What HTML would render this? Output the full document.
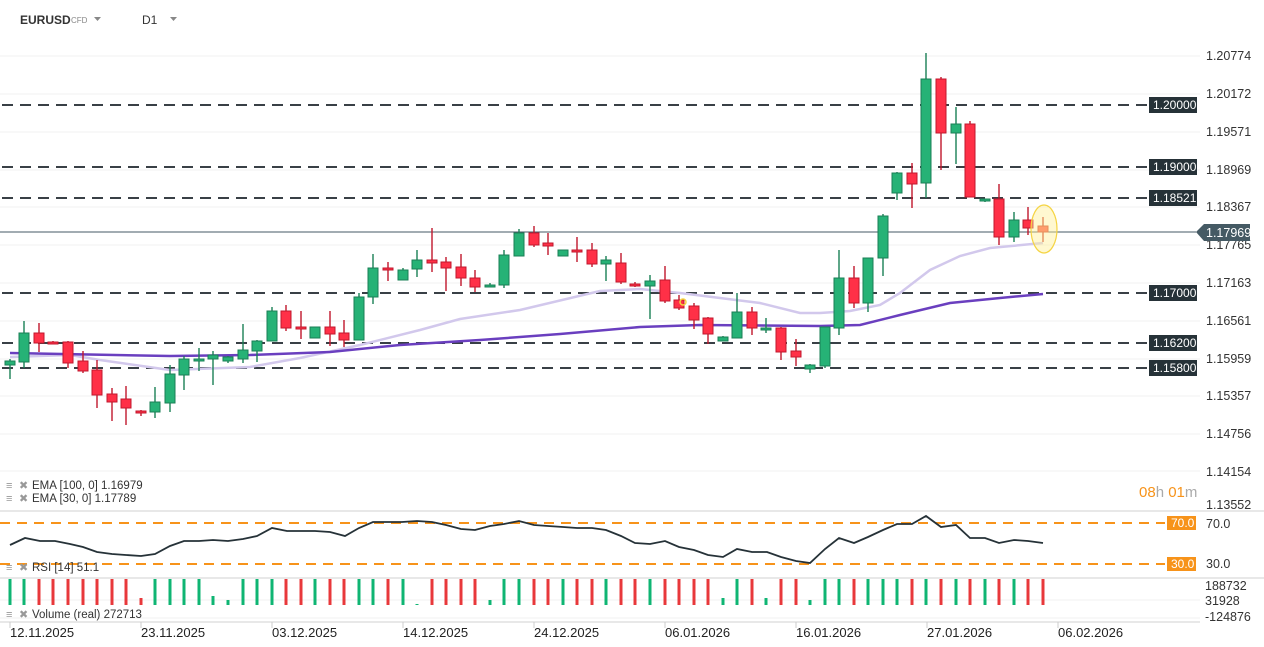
<!DOCTYPE html>
<html><head><meta charset="utf-8"><style>
body{margin:0;width:1264px;height:647px;overflow:hidden;background:#fff;font-family:"Liberation Sans",sans-serif}
svg{position:absolute;left:0;top:0}
</style></head><body>
<svg id="s" width="1264" height="647" xmlns="http://www.w3.org/2000/svg" font-family="Liberation Sans, sans-serif">
<g stroke="#f0f0f0" stroke-width="1">
<line x1="0" y1="56" x2="1200" y2="56"/><line x1="0" y1="94" x2="1200" y2="94"/><line x1="0" y1="132" x2="1200" y2="132"/><line x1="0" y1="170" x2="1200" y2="170"/><line x1="0" y1="207" x2="1200" y2="207"/><line x1="0" y1="245" x2="1200" y2="245"/><line x1="0" y1="283" x2="1200" y2="283"/><line x1="0" y1="321" x2="1200" y2="321"/><line x1="0" y1="359" x2="1200" y2="359"/><line x1="0" y1="396" x2="1200" y2="396"/><line x1="0" y1="434" x2="1200" y2="434"/><line x1="0" y1="471" x2="1200" y2="471"/>
<line x1="0" y1="618" x2="1200" y2="618"/><line x1="0" y1="600" x2="1200" y2="600"/>
</g>
<g stroke="#d0d0d0"><line x1="0" y1="511" x2="1264" y2="511"/><line x1="0" y1="578" x2="1264" y2="578"/><line x1="0" y1="622" x2="1200" y2="622"/></g>
<g id="dash" stroke="#394046" stroke-width="2" stroke-dasharray="11 7">
<line x1="2" y1="105" x2="1148" y2="105"/><line x1="2" y1="167" x2="1148" y2="167"/><line x1="2" y1="198" x2="1148" y2="198"/><line x1="2" y1="293" x2="1148" y2="293"/><line x1="2" y1="343" x2="1148" y2="343"/><line x1="2" y1="368" x2="1148" y2="368"/>
</g>
<line x1="0" y1="232" x2="1196" y2="232" stroke="#455a64" stroke-width="1"/>
<polyline fill="none" stroke="#d2c8ec" stroke-width="2.5" points="10,357 70,355 100,360 170,370 250,367 300,358 360,345 420,330 460,319 520,310 600,291 640,289 680,293 720,298 760,303 800,313 820,313 850,311 880,305 900,293 930,270 960,256 990,248 1043,243"/>
<polyline fill="none" stroke="#6a3fbf" stroke-width="2.5" points="10,353 170,356 250,355 330,352 400,345 480,340 560,334 640,327 700,325 820,326 860,325 900,315 950,303 1000,298 1043,294"/>
<g id="candles"></g>
<ellipse cx="1044" cy="229" rx="13" ry="24" fill="rgba(255,240,150,0.45)" stroke="#f5d442" stroke-width="1.2"/>
<circle cx="683" cy="302" r="3" fill="none" stroke="#f5d442" stroke-width="1.5"/>
<g font-size="12.5" fill="#333">
<text x="1206" y="60">1.20774</text><text x="1206" y="98">1.20172</text><text x="1206" y="136">1.19571</text><text x="1206" y="174">1.18969</text><text x="1206" y="211">1.18367</text><text x="1206" y="249">1.17765</text><text x="1206" y="287">1.17163</text><text x="1206" y="325">1.16561</text><text x="1206" y="363">1.15959</text><text x="1206" y="400">1.15357</text><text x="1206" y="438">1.14756</text><text x="1206" y="476">1.14154</text><text x="1206" y="509">1.13552</text>
<text x="1206" y="528">70.0</text><text x="1206" y="568">30.0</text>
<text x="1205" y="590">188732</text><text x="1205" y="605">31928</text><text x="1205" y="621">-124876</text>
</g>
<g font-size="12" fill="#fff">
<rect x="1149" y="97" width="48" height="16" fill="#263238"/><text x="1153" y="109">1.20000</text>
<rect x="1149" y="159" width="48" height="16" fill="#263238"/><text x="1153" y="171">1.19000</text>
<rect x="1149" y="190" width="48" height="16" fill="#263238"/><text x="1153" y="202">1.18521</text>
<rect x="1149" y="285" width="48" height="16" fill="#263238"/><text x="1153" y="297">1.17000</text>
<rect x="1149" y="335" width="48" height="16" fill="#263238"/><text x="1153" y="347">1.16200</text>
<rect x="1149" y="360" width="48" height="16" fill="#263238"/><text x="1153" y="372">1.15800</text>
<path d="M1196,232 L1204,224 L1250,224 L1250,241 L1204,241 Z" fill="#455a64"/><text x="1206" y="237" font-size="12.5">1.17969</text>
<rect x="1167" y="516" width="29" height="14" fill="#f7931a"/><text x="1171" y="527">70.0</text>
<rect x="1167" y="557" width="29" height="14" fill="#f7931a"/><text x="1171" y="568">30.0</text>
</g>
<g stroke="#3a4148" stroke-width="2"><line x1="1137" y1="105" x2="1145" y2="105"/><line x1="1137" y1="167" x2="1145" y2="167"/><line x1="1137" y1="198" x2="1145" y2="198"/><line x1="1137" y1="293" x2="1145" y2="293"/><line x1="1137" y1="343" x2="1145" y2="343"/><line x1="1137" y1="368" x2="1145" y2="368"/></g>
<text x="1139" y="497" font-size="15" fill="#f7931a">08<tspan fill="#aaa">h</tspan> 01<tspan fill="#aaa">m</tspan></text>
<g stroke="#f7931a" stroke-width="2" stroke-dasharray="10 7"><line x1="0" y1="523" x2="1165" y2="523"/><line x1="0" y1="564" x2="1165" y2="564"/></g>
<polyline fill="none" stroke="#263238" stroke-width="1.8" points="10,545 25,538 40,541 55,541 70,544 83,547 97,552 112,554 126,555 141,556 155,554 170,546 184,541 199,541 213,540 228,541 243,539 257,536 272,528 287,531 301,531 315,531 330,532 345,536 359,528 373,522 388,522 402,522 417,521 432,522 446,525 461,529 475,530 490,526 504,524 519,521 534,525 548,526 563,527 577,528 592,528 606,530 621,536 635,543 650,544 665,541 679,547 694,550 708,555 723,557 737,549 752,552 767,552 781,557 796,561 810,563 825,549 839,538 854,543 868,537 883,530 897,524 912,524 926,516 941,527 956,525 970,538 985,538 999,543 1014,540 1028,541 1043,543"/>
<g id="vol"></g>
<g font-size="11.5" fill="#333">
<text x="32" y="489">EMA  [100,  0]  1.16979</text><text x="32" y="502">EMA  [30,  0]  1.17789</text>
<text x="32" y="571">RSI  [14]  51.1</text><text x="32" y="618">Volume  (real)  272713</text>
</g>
<g fill="#999" font-size="11"><text x="6" y="489">≡</text><text x="19" y="489">✖</text><text x="6" y="502">≡</text><text x="19" y="502">✖</text><text x="6" y="571">≡</text><text x="19" y="571">✖</text><text x="6" y="618">≡</text><text x="19" y="618">✖</text></g>
<g font-size="13" fill="#222">
<text x="10" y="637">12.11.2025</text><text x="141" y="637">23.11.2025</text><text x="272" y="637">03.12.2025</text><text x="403" y="637">14.12.2025</text><text x="534" y="637">24.12.2025</text><text x="665" y="637">06.01.2026</text><text x="796" y="637">16.01.2026</text><text x="927" y="637">27.01.2026</text><text x="1058" y="637">06.02.2026</text>
</g>
<g stroke="#ccc"><line x1="10" y1="622" x2="10" y2="628"/><line x1="141" y1="622" x2="141" y2="628"/><line x1="272" y1="622" x2="272" y2="628"/><line x1="403" y1="622" x2="403" y2="628"/><line x1="534" y1="622" x2="534" y2="628"/><line x1="665" y1="622" x2="665" y2="628"/><line x1="796" y1="622" x2="796" y2="628"/><line x1="927" y1="622" x2="927" y2="628"/><line x1="1058" y1="622" x2="1058" y2="628"/></g>
<text x="20" y="24" font-size="12" font-weight="bold" fill="#333">EURUSD</text>
<text x="71" y="23" font-size="8" fill="#888">CFD</text>
<path d="M94,17 L101,17 L97.5,21 Z" fill="#888"/>
<text x="142" y="24" font-size="12" fill="#333">D1</text>
<path d="M170,17 L177,17 L173.5,21 Z" fill="#888"/>
</svg>
<script>
var C=[
[10,365,361,359,379],[24,362,333,321,368],[39,333,343,323,352],[53,342,344,341,344],[68,342,363,341,368],[83,361,371,351,373],[97,370,395,360,408],[112,394,402,388,421],[126,399,408,386,425],[141,411,413,410,416],[155,412,402,387,418],[170,403,374,365,412],[184,375,359,356,390],[199,360,359,348,371],[213,359,355,351,385],[228,361,357,356,363],[243,359,350,324,363],[257,351,341,340,362],[272,341,311,307,341],[286,311,328,305,331],[301,327,329,311,339],[315,338,327,327,338],[330,327,334,311,346],[344,333,340,320,347],[359,340,297,293,340],[373,297,268,254,304],[388,268,270,262,281],[403,280,270,268,280],[417,269,260,250,277],[432,260,263,228,272],[446,262,268,257,291],[461,267,278,254,286],[475,278,287,270,292],[490,287,285,283,287],[504,285,255,250,288],[519,256,233,229,256],[534,233,245,226,247],[548,243,246,233,255],[563,256,250,250,256],[577,250,252,237,262],[592,250,264,243,267],[606,264,260,256,281],[621,263,282,253,284],[635,284,286,282,287],[650,286,281,275,319],[665,280,301,266,303],[679,300,308,295,310],[694,306,320,303,329],[708,318,334,317,344],[723,341,337,336,341],[737,338,312,293,338],[752,312,328,307,335],[766,330,328,318,333],[781,328,352,327,360],[796,351,357,339,366],[810,369,365,364,373],[825,366,327,327,368],[839,328,278,250,335],[854,278,303,266,308],[868,303,258,258,312],[883,258,216,214,276],[897,193,173,172,200],[912,173,184,163,208],[926,183,79,53,198],[941,79,133,77,170],[956,133,124,107,164],[970,124,197,121,197],[985,201,199,199,202],[999,199,237,184,245],[1014,237,220,212,242],[1028,220,228,207,235],[1043,226,232,217,242]];
var g='',v='';
var short={213:596,389:603,417:604,141:598,228:600,490:600,723:598,766:598,810:600};
C.forEach(function(c){var up=c[2]<c[1];var f=up?'#26b276':'#ff3047',s=up?'#1a7f55':'#c0172c';
if(c[0]==1043){f='#ff5a4a';s='#d0402f';}
var t=Math.min(c[1],c[2]),h=Math.max(Math.abs(c[1]-c[2]),2);
g+='<line x1="'+c[0]+'" y1="'+c[3]+'" x2="'+c[0]+'" y2="'+c[4]+'" stroke="'+s+'" stroke-width="1.4"/>';
g+='<rect x="'+(c[0]-5)+'" y="'+t+'" width="10" height="'+h+'" fill="'+f+'" stroke="'+s+'" stroke-width="1"/>';
var top=short[c[0]]||579;
v+='<rect x="'+(c[0]-1.5)+'" y="'+top+'" width="3" height="'+(605-top)+'" fill="'+(up?'#0fb573':'#e8383b')+'"/>';});
document.getElementById('candles').innerHTML=g;document.getElementById('vol').innerHTML=v;
</script>
</body></html>
